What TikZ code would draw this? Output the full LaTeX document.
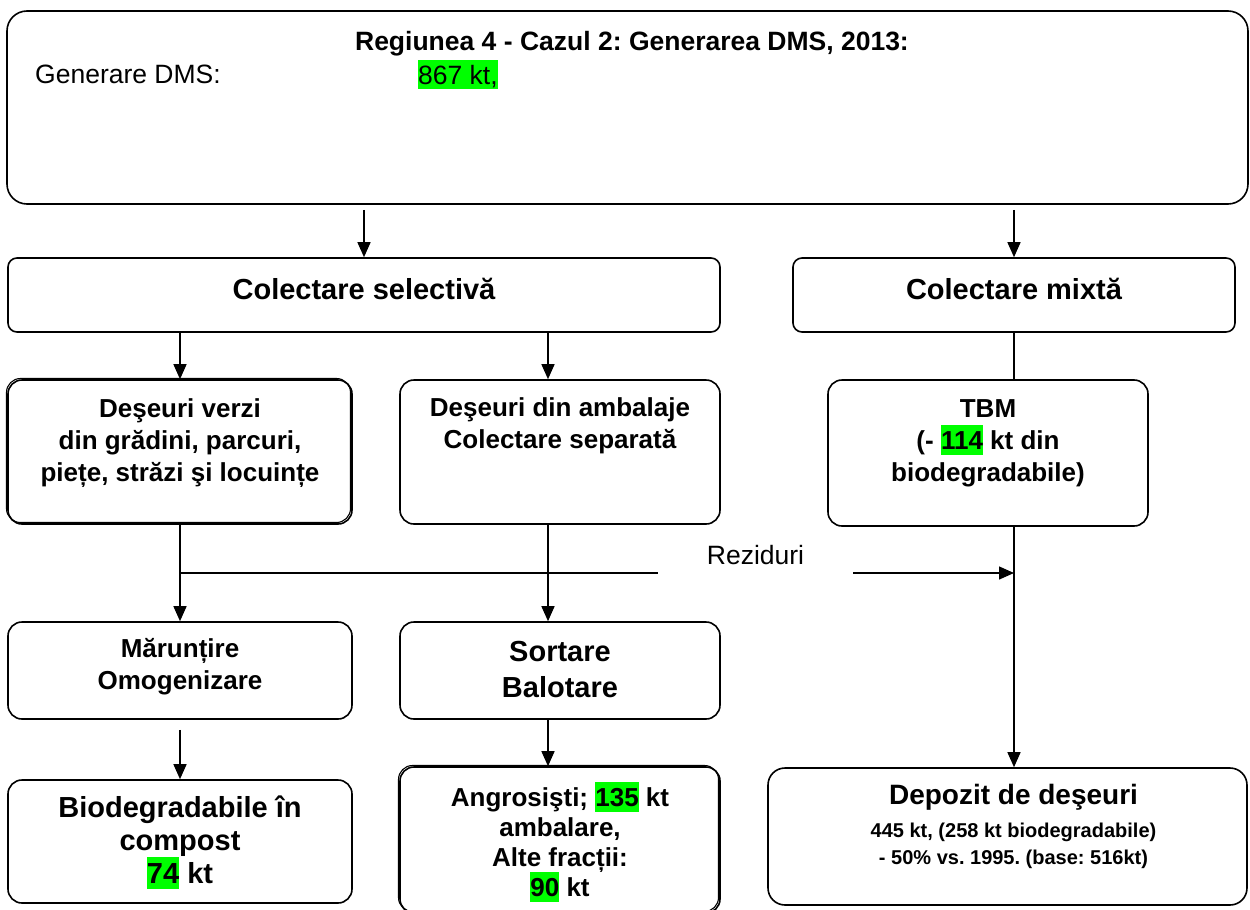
\documentclass[tikz,border=0pt]{standalone}
\usepackage{fontspec}
\setmainfont{Liberation Sans}
\usetikzlibrary{arrows.meta,positioning}
\frenchspacing

\definecolor{hlgreen}{RGB}{0,255,0}
\newcommand{\hl}[1]{{\setlength{\fboxsep}{0pt}\colorbox{hlgreen}{\rule[-0.2em]{0pt}{1.12em}#1}}}
\newcommand{\topstrut}{\rule{0pt}{1em}}

\begin{document}
\begin{tikzpicture}[x=1pt,y=1pt,>={Triangle[length=15pt,width=13pt]},
  box/.style={draw,line width=1.6pt,rounded corners=14pt,inner sep=0pt},
  twin/.style={preaction={draw,line width=1.1pt,transform canvas={shift={(-1.5pt,1.5pt)}}}},
  lbl/.style={inner sep=0pt,align=center,font=\bfseries\fontsize{26}{32}\selectfont},
  normaltxt/.style={inner sep=0pt,font=\fontsize{26.5}{32}\selectfont},
  flow/.style={->,line width=1.4pt}]
  \useasboundingbox (0,0) rectangle (1250,-910);

  % boxes
  \node[box,rounded corners=20pt,minimum width=1241pt,minimum height=193pt] (top) at (627.5,-107.5) {};
  \node[box,rounded corners=9pt,minimum width=712pt,minimum height=74pt] (sel) at (364,-295) {};
  \node[box,rounded corners=9pt,minimum width=442pt,minimum height=74pt] (mix) at (1014,-295) {};
  \node[box,twin,minimum width=344pt,minimum height=144pt] (verzi) at (180,-452) {};
  \node[box,minimum width=320pt,minimum height=144pt] (amb) at (560,-452) {};
  \node[box,minimum width=320pt,minimum height=146pt] (tbm) at (988,-453) {};
  \node[box,minimum width=344pt,minimum height=97pt,on grid] (mar) [below=218.5pt of verzi] {};
  \node[box,minimum width=320pt,minimum height=97pt,on grid] (sort) [below=218.5pt of amb] {};
  \node[box,minimum width=344pt,minimum height=123pt,on grid] (bio) [below=171pt of mar] {};
  \node[box,twin,minimum width=320pt,minimum height=146pt] (angro) at (560,-840) {};
  \node[box,rounded corners=17pt,minimum width=479pt,minimum height=137pt] (dep) at (1007.5,-836.5) {};

  % texts
  \node[lbl,font=\bfseries\fontsize{26.5}{32}\selectfont,below=13.5pt of top.north,xshift=4.5pt] (title)
    {\topstrut Regiunea 4 - Cazul 2: Generarea DMS, 2013:};
  \node[normaltxt,anchor=base west] (gen) at (35,-83) {Generare DMS:};
  \node[normaltxt,anchor=base west] (genval) at (418,-84) {\hl{867 kt,}};
  \node[lbl,font=\bfseries\fontsize{29}{36}\selectfont,below=13pt of sel.north] (seltxt) {\topstrut Colectare selectivă};
  \node[lbl,font=\bfseries\fontsize{29}{36}\selectfont,below=13pt of mix.north] (mixtxt) {\topstrut Colectare mixtă};
  \node[lbl,below=12pt of verzi.north] (verzitxt)
    {\topstrut Deşeuri verzi\\din grădini, parcuri,\\piețe, străzi şi locuințe};
  \node[lbl,below=11pt of amb.north] (ambtxt) {\topstrut Deşeuri din ambalaje\\Colectare separată};
  \node[lbl,below=12pt of tbm.north] (tbmtxt) {\topstrut TBM\\(- \hl{114} kt din\\biodegradabile)};
  \node[lbl,below=10pt of mar.north] (martxt) {\topstrut Mărunțire\\Omogenizare};
  \node[lbl,font=\bfseries\fontsize{29}{36}\selectfont,below=11pt of sort.north] (sorttxt) {\topstrut Sortare\\Balotare};
  \node[lbl,font=\bfseries\fontsize{29}{33}\selectfont,below=9pt of bio.north] (biotxt)
    {\topstrut Biodegradabile în\\compost\\\hl{74} kt};
  \node[lbl,font=\bfseries\fontsize{26}{30}\selectfont,below=14pt of angro.north] (angrotxt)
    {\topstrut Angrosişti; \hl{135} kt\\ambalare,\\Alte fracții:\\\hl{90} kt};
  \node[lbl,font=\bfseries\fontsize{28}{33}\selectfont,below=9pt of dep.north,xshift=6pt] (deptl) {\topstrut Depozit de deşeuri};
  \node[lbl,font=\bfseries\fontsize{20}{27}\selectfont,below=13pt of deptl.base] (depnum)
    {\topstrut 445 kt, (258 kt biodegradabile)\\- 50\% vs. 1995. (base: 516kt)};

  % connectors
  \coordinate (colB) at (548,0);
  \coordinate (jA) at (180,-573);
  \coordinate (jC) at (1014,-573);
  \node[normaltxt,minimum width=195pt,anchor=base] (rez) at (755.5,-564) {Reziduri};

  \draw[flow] ([yshift=-5pt]top.south -| sel.north) -- (sel.north);
  \draw[flow] ([yshift=-5pt]top.south -| mix.north) -- (mix.north);
  \draw[flow] (sel.south -| verzi.north) -- (verzi.north);
  \draw[flow] (sel.south -| colB) -- (amb.north -| colB);
  \draw[line width=1.4pt] (mix.south) -- (mix.south |- tbm.north);
  \draw[flow] (verzi) -- (mar);
  \draw[flow] (amb.south -| colB) -- (sort.north -| colB);
  \draw[line width=1.4pt] (jA) -- (jA -| rez.west);
  \draw[flow] (rez.east |- jC) -- (jC);
  \draw[flow] ([yshift=-10pt]mar.south) -- (bio.north);
  \draw[flow] (sort.south -| colB) -- (angro.north -| colB);
  \draw[flow] (tbm.south -| mix.south) -- (dep.north -| mix.south);
\end{tikzpicture}
\end{document}
